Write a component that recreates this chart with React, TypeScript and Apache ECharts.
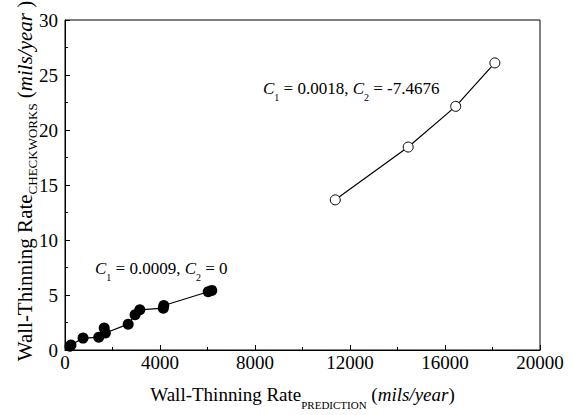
import React, { useEffect, useRef } from "react";
import * as echarts from "echarts";

const lowX = [210, 250, 760, 1420, 1650, 1700, 2660, 2950, 3150, 4140, 4160, 6030, 6180];
const lowY = [0.35, 0.45, 1.08, 1.15, 2.0, 1.55, 2.35, 3.2, 3.65, 3.8, 4.05, 5.3, 5.42];
const highX = [11380, 14450, 16450, 18100];
const highY = [13.65, 18.45, 22.15, 26.1];
const xTicks = { min: 0, max: 20000, interval: 4000 };
const yTicks = { min: 0, max: 30, interval: 5 };
const xName = "{m|Wall-Thinning Rate}{s|PREDICTION}{m| (}{i|mils/year}{m|)}";
const yName = "{m|Wall-Thinning Rate}{s|CHECKWORKS}{m| (}{i|mils/year}{m| )}";
const note1 = "{i|C}{s|1}{m| = 0.0009, }{i|C}{s|2}{m| = 0}";
const note2 = "{i|C}{s|1}{m| = 0.0018, }{i|C}{s|2}{m| = -7.4676}";

const FONT = "Liberation Serif";

export default function App() {
  const ref = useRef<HTMLDivElement>(null);
  useEffect(() => {
    if (!ref.current) return;
    const chart = echarts.init(ref.current, undefined, { renderer: "svg" });
    const nameRich = (size: number, sub: number, lh: number) => ({
      m: { fontSize: size, fontFamily: FONT, color: "#000", lineHeight: lh },
      i: { fontSize: size, fontFamily: FONT, color: "#000", lineHeight: lh, fontStyle: "italic" },
      s: { fontSize: sub, fontFamily: FONT, color: "#000", lineHeight: sub, verticalAlign: "bottom" },
    });
    const noteRich = {
      m: { fontSize: 17, fontFamily: FONT, color: "#000", lineHeight: 28 },
      i: { fontSize: 17, fontFamily: FONT, color: "#000", lineHeight: 28, fontStyle: "italic" },
      s: { fontSize: 10, fontFamily: FONT, color: "#000", lineHeight: 10, verticalAlign: "bottom" },
    };
    chart.setOption({
      animation: false,
      grid: {
        left: 65,
        top: 20,
        right: 33,
        bottom: 64,
        show: true,
        borderColor: "#000",
        borderWidth: 1,
      },
      xAxis: {
        type: "value",
        min: xTicks.min,
        max: xTicks.max,
        interval: xTicks.interval,
        name: xName,
        nameLocation: "middle",
        nameGap: 28,
        nameMoveOverlap: false,
        nameTextStyle: { rich: nameRich(19, 11, 32) },
        axisTick: { inside: true, length: 5 },
        minorTick: { show: true, splitNumber: 2, length: 3 },
        axisLine: { lineStyle: { color: "#000" } },
        splitLine: { show: false },
        axisLabel: {
          color: "#000",
          fontSize: 19,
          fontFamily: FONT,
          margin: 3,
          formatter: (v: number) => String(v),
        },
      },
      yAxis: {
        type: "value",
        min: yTicks.min,
        max: yTicks.max,
        interval: yTicks.interval,
        axisTick: { show: true, inside: true, length: 5 },
        minorTick: { show: true, splitNumber: 2, length: 3 },
        axisLine: { show: true, lineStyle: { color: "#000" } },
        splitLine: { show: false },
        axisLabel: {
          color: "#000",
          fontSize: 19,
          fontFamily: FONT,
          margin: 7,
          formatter: (v: number) => String(v),
        },
      },
      graphic: [
        {
          type: "text",
          x: 25,
          y: 181,
          rotation: Math.PI / 2,
          style: {
            text: yName,
            rich: nameRich(21, 13, 28),
            align: "center",
            verticalAlign: "middle",
          },
        },
        { type: "text", left: 95, top: 260, style: { text: note1, rich: noteRich } },
        { type: "text", left: 263, top: 80, style: { text: note2, rich: noteRich } },
      ],
      series: [
        {
          type: "line",
          data: lowX.map((x, k) => [x, lowY[k]]),
          symbol: "circle",
          symbolSize: 11,
          lineStyle: { color: "#000", width: 1.2 },
          itemStyle: { color: "#000" },
        },
        {
          type: "line",
          data: highX.map((x, k) => [x, highY[k]]),
          symbol: "circle",
          symbolSize: 10,
          lineStyle: { color: "#000", width: 1.2 },
          itemStyle: { color: "#fff", borderColor: "#000", borderWidth: 1 },
        },
      ],
    });
    return () => chart.dispose();
  }, []);
  return <div ref={ref} style={{ width: 573, height: 415, position: "absolute", left: 0, top: 0 }} />;
}
